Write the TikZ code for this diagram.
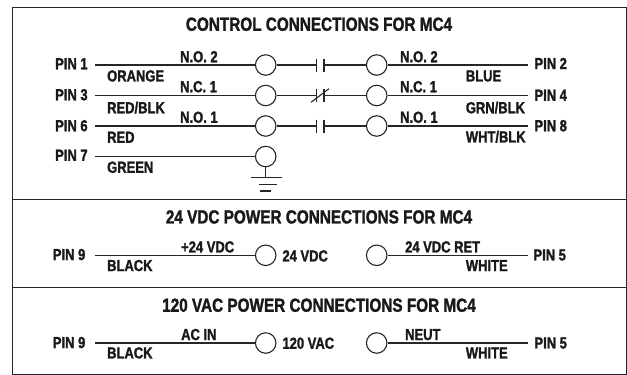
\documentclass[tikz,border=0pt]{standalone}
\usepackage{fontspec}
\setmainfont{Liberation Sans}[BoldFeatures={FakeStretch=0.81,FakeBold=1.5}]
\tikzset{
  x=1pt,y=-1pt,
  lbl/.style={anchor=west,inner sep=0pt,text height=11.5pt,text depth=0pt,font=\bfseries\fontsize{16}{16}\selectfont,text=black!90},
  ttl/.style={anchor=center,inner sep=0pt,text height=13.5pt,text depth=0pt,font=\bfseries\fontsize{18.9}{18.9}\selectfont,text=black!90},
  term/.style={circle,draw=black!85,line width=1.1pt,minimum size=20.5pt,inner sep=0pt},
  wire/.style={draw=black!85,line width=1.1pt},
  frame/.style={draw=black!85,line width=1.4pt}
}
\begin{document}
\begin{tikzpicture}
\useasboundingbox (0,0) rectangle (627,375);
\node[frame,draw,minimum width=614pt,minimum height=367.5pt,inner sep=0pt,anchor=north west] (box) at (11.6,6.7) {};
\coordinate (dl1) at (11.6,199.5); \coordinate (dr1) at (625.6,199.5);
\coordinate (dl2) at (11.6,287.3); \coordinate (dr2) at (625.6,287.3);
\draw[frame] (dl1) -- (dr1);
\draw[frame] (dl2) -- (dr2);
\node[ttl] (t1) at (319,24) {CONTROL CONNECTIONS FOR MC4};
\node[ttl] (t2) at (319,216.7) {24 VDC POWER CONNECTIONS FOR MC4};
\node[ttl] (t3) at (319,305) {120 VAC POWER CONNECTIONS FOR MC4};
% terminals
\node[term] (a1) at (265.7,65) {};
\node[term] (b1) at (376.7,65) {};
\node[term] (a2) at (265.7,95.5) {};
\node[term] (b2) at (376.7,95.5) {};
\node[term] (a3) at (265.7,126) {};
\node[term] (b3) at (376.7,126) {};
\node[term] (a4) at (265.7,156.5) {};
\node[term] (a5) at (265.7,255.3) {};
\node[term] (b5) at (376.7,255.3) {};
\node[term] (a6) at (265.7,343) {};
\node[term] (b6) at (376.7,343) {};
% free wire ends
\coordinate (l1) at (95,65); \coordinate (r1) at (527.7,65);
\coordinate (l2) at (95,95.5); \coordinate (r2) at (527.7,95.5);
\coordinate (l3) at (95,126); \coordinate (r3) at (527.7,126);
\coordinate (l4) at (95,156.5);
\coordinate (l5) at (95,255.3); \coordinate (r5) at (527.7,255.3);
\coordinate (l6) at (95,343); \coordinate (r6) at (527.7,343);
\foreach \n in {1,2,3}{
  \draw[wire] (l\n) -- (a\n);
  \draw[wire] (b\n) -- (r\n);
}
\draw[wire] (l4) -- (a4);
\foreach \n in {5,6}{
  \draw[wire] (l\n) -- (a\n);
  \draw[wire] (b\n) -- (r\n);
}
% contacts
\foreach \n/\yy in {1/65,2/95.5,3/126}{
  \coordinate (ka\n) at (316.7,\yy);
  \coordinate (kb\n) at (324,\yy);
  \coordinate (kat\n) at (316.7,\yy-6.5);
  \coordinate (kab\n) at (316.7,\yy+6.5);
  \coordinate (kbt\n) at (324,\yy-6.5);
  \coordinate (kbb\n) at (324,\yy+6.5);
  \draw[wire] (a\n) -- (ka\n);
  \draw[wire] (kb\n) -- (b\n);
  \draw[wire] (kat\n) -- (kab\n);
  \draw[wire] (kbt\n) -- (kbb\n);
}
\coordinate (sl1) at (311,102.3); \coordinate (sl2) at (329,88.7);
\draw[wire] (sl1) -- (sl2);
% ground
\coordinate (g1) at (265.7,177.7);
\coordinate (g1l) at (250.5,177.7); \coordinate (g1r) at (281.5,177.7);
\coordinate (g2l) at (258.5,184.3); \coordinate (g2r) at (276.5,184.3);
\coordinate (g3l) at (260,191); \coordinate (g3r) at (271,191);
\draw[wire] (a4) -- (g1);
\draw[wire] (g1l) -- (g1r);
\draw[wire] (g2l) -- (g2r);
\draw[wire] (g3l) -- (g3r);
% labels
\node[lbl] (p1) at (55,63.5) {PIN 1};
\node[lbl] (p3) at (55,94.5) {PIN 3};
\node[lbl] (p6) at (55,125.5) {PIN 6};
\node[lbl] (p7) at (55,155) {PIN 7};
\node[lbl] (c1) at (107,75.7) {ORANGE};
\node[lbl] (c2) at (107,107.5) {RED/BLK};
\node[lbl] (c3) at (107,137) {RED};
\node[lbl] (c4) at (107,167) {GREEN};
\node[lbl] (n1) at (180,56.5) {N.O. 2};
\node[lbl] (n2) at (180,86.5) {N.C. 1};
\node[lbl] (n3) at (180,117) {N.O. 1};
\node[lbl] (m1) at (400,56.5) {N.O. 2};
\node[lbl] (m2) at (400,86.5) {N.C. 1};
\node[lbl] (m3) at (400,117) {N.O. 1};
\node[lbl] (d1) at (465.7,75.7) {BLUE};
\node[lbl] (d2) at (465.7,107.5) {GRN/BLK};
\node[lbl] (d3) at (465.7,136.7) {WHT/BLK};
\node[lbl] (p2) at (534.3,63.3) {PIN 2};
\node[lbl] (p4) at (534.3,95) {PIN 4};
\node[lbl] (p8) at (534.3,125.5) {PIN 8};
\node[lbl] (p9) at (52.7,254.3) {PIN 9};
\node[lbl] (c5) at (107,265.3) {BLACK};
\node[lbl] (n5) at (181,246.7) {+24 VDC};
\node[lbl] (v5) at (282.3,255.7) {24 VDC};
\node[lbl] (m5) at (405,246.7) {24 VDC RET};
\node[lbl] (d5) at (465.7,265.3) {WHITE};
\node[lbl] (p5) at (533.3,254.7) {PIN 5};
\node[lbl] (p9b) at (52.7,342.3) {PIN 9};
\node[lbl] (c6) at (107,352.7) {BLACK};
\node[lbl] (n6) at (181,334.3) {AC IN};
\node[lbl] (v6) at (282.3,343) {120 VAC};
\node[lbl] (m6) at (405,334.3) {NEUT};
\node[lbl] (d6) at (465.7,352.7) {WHITE};
\node[lbl] (p5b) at (534.3,342.7) {PIN 5};
\end{tikzpicture}
\end{document}
